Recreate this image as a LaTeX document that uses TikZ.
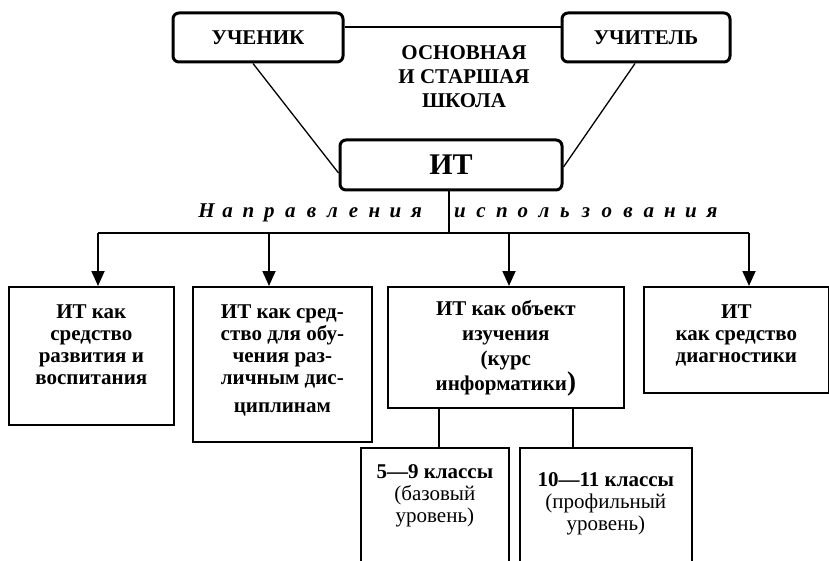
\documentclass[tikz,border=0pt]{standalone}
\usepackage{fontspec}
\setmainfont{Liberation Serif}
\usetikzlibrary{arrows.meta, positioning}

\newcommand\boxfont{\fontsize{21}{22}\selectfont\bfseries}
\def\letterpitch{21pt}
\def\spl#1{\ifx\relax#1\else\makebox[\letterpitch]{#1}\expandafter\spl\fi}
\newcommand\spacedword[1]{\spl#1\relax}

\begin{document}
\begin{tikzpicture}[
        x=1pt, y=-1pt,
        font=\boxfont,
        rolebox/.style={draw, line width=3pt, rounded corners=6pt, minimum height=49pt, inner sep=0pt},
        dirbox/.style 2 args={draw, line width=1.7pt, anchor=north west, inner sep=0pt, minimum width=#1, minimum height=#2},
        txt/.style={align=center, inner sep=0pt},
        line/.style={line width=1.3pt},
        bus/.style={line width=1.8pt},
        arr/.style={line width=1.8pt, -{Triangle[width=13pt,length=15pt]}}
    ]
    \useasboundingbox (0,0) rectangle (829,561);
    \clip (0,0) rectangle (829,561);

    % Top: pupil, teacher, IT
    \node[rolebox, minimum width=170pt] (uchenik) at (258,37.5) {УЧЕНИК};
    \node[rolebox, minimum width=168pt] (uchitel) at (646,37.5) {УЧИТЕЛЬ};
    \node[rolebox, minimum width=222pt, minimum height=50pt, font=\fontsize{30}{32}\selectfont\bfseries] (it) at (451,165) {ИТ};
    \node[txt, anchor=north, font=\fontsize{21}{24}\selectfont\bfseries] (school) at (464,45) {ОСНОВНАЯ\\И СТАРШАЯ\\ШКОЛА};

    \draw[line] ([yshift=10.5pt]uchenik.east) -- ([yshift=10.5pt]uchitel.west);
    \draw[line] ([xshift=-5pt]uchenik.south) -- ([yshift=-8pt]it.west);
    \draw[line] ([xshift=-11pt]uchitel.south) -- ([yshift=-2pt]it.east);

    % Directions of use
    \node[anchor=base, font=\fontsize{21}{22}\selectfont\bfseries\itshape] (naprav) at (311.5,218) {\spacedword{Направления}};
    \node[anchor=base, font=\fontsize{21}{22}\selectfont\bfseries\itshape] (ispolz) at (586,218) {\spacedword{использования}};

    \coordinate (bus) at (449,233);
    \coordinate (d1) at (98,233);
    \coordinate (d2) at (269,233);
    \coordinate (d3) at (509,233);
    \coordinate (d4) at (749,233);
    \draw[bus] (it.south -| bus) -- (bus);
    \draw[bus] (d1) -- (d4);

    % Boxes
    \node[dirbox={165pt}{138pt}] (dev) at (8,286) {};
    \node[dirbox={179pt}{155pt}] (subj) at (192,286) {};
    \node[dirbox={236pt}{121pt}] (obj) at (387,286) {};
    \node[dirbox={185pt}{106pt}] (diag) at (643,286) {};
    \node[dirbox={148pt}{150pt}] (basic) at (360,447) {};
    \node[dirbox={172pt}{150pt}] (prof) at (519,447) {};

    \node[txt, below=19pt of dev.north] (devtxt) {ИТ как\\средство\\развития и\\воспитания};
    \node[txt, below=19pt of subj.north] (subjtxt) {ИТ как сред-\\ство для обу-\\чения раз-\\личным дис-\\[6pt]циплинам};
    \node[txt, below=14pt of obj.north, font=\fontsize{21}{25}\selectfont\bfseries] (objtxt) {ИТ как объект\\изучения\\(курс\\информатики{\fontsize{27}{25}\selectfont)}};
    \node[txt, below=19pt of diag.north] (diagtxt) {ИТ\\как средство\\диагностики};
    \node[txt, below=17pt of basic.north] (basictxt) {5—9 классы\\{\mdseries(базовый}\\{\mdseries уровень)}};
    \node[txt, below=25pt of prof.north] (proftxt) {10—11 классы\\{\mdseries(профильный}\\{\mdseries уровень)}};

    % Arrows
    \draw[arr] (d1) -- (d1 |- dev.north);
    \draw[arr] (d2) -- (d2 |- subj.north);
    \draw[arr] (d3) -- (d3 |- obj.north);
    \draw[arr] (d4) -- (d4 |- diag.north);

    \draw[bus] ([xshift=-67pt]obj.south) -- ([xshift=-67pt]obj.south |- basic.north);
    \draw[bus] ([xshift=67pt]obj.south) -- ([xshift=67pt]obj.south |- prof.north);

\end{tikzpicture}
\end{document}
